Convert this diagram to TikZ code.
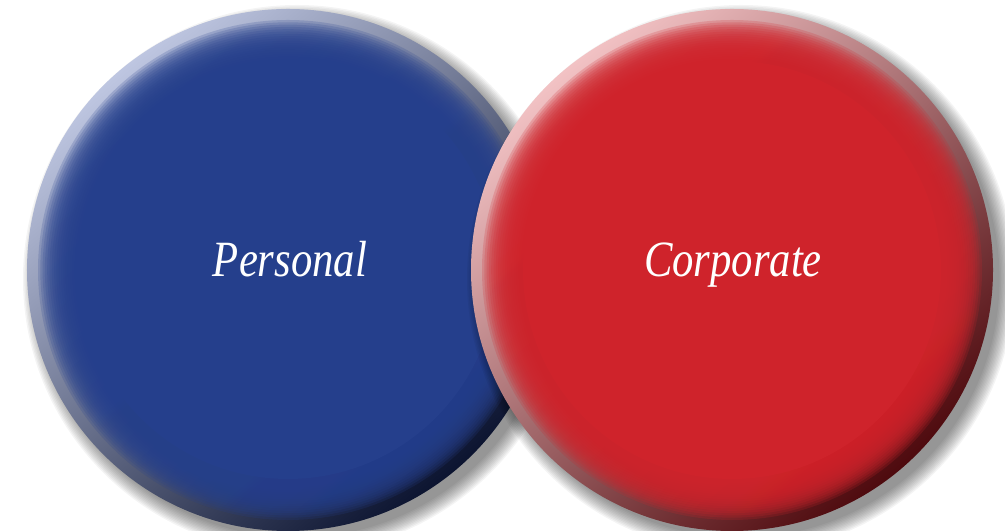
\documentclass[tikz,border=0pt]{standalone}
\usepackage{fontspec}
\setmainfont{Liberation Serif}
\usetikzlibrary{calc,shadings,positioning}
\definecolor{mblue}{RGB}{37,63,140}
\definecolor{mbluelt}{RGB}{190,198,225}
\definecolor{mbluedk}{RGB}{12,20,48}
\definecolor{mred}{RGB}{207,35,43}
\definecolor{mredlt}{RGB}{242,194,196}
\definecolor{mreddk}{RGB}{78,10,14}
\tikzstyle{shadow}=[fill=black, fill opacity=0.045]
\tikzstyle{rim}=[fill opacity=0.2]
\tikzstyle{label}=[text=white, font=\itshape\fontsize{51}{56}\selectfont, xscale=0.84, anchor=base]

\begin{document}
\begin{tikzpicture}[x=1bp,y=1bp]
    \useasboundingbox (0,0) rectangle (1005,531);
    \coordinate (b) at (288,261);
    \coordinate (r) at (732,261);

    % blue disc
    \foreach \k in {0,...,11}
        \fill[shadow] ($(b)+(9,-9)$) circle ({274-1.4*\k});
    \shade[top color=mbluelt, middle color=mblue, bottom color=mbluedk, shading angle=40] (b) circle (261bp);
    \foreach \k in {0,...,17}
        \fill[rim, mblue] (b) circle ({250-2.3*\k});
    \fill[mblue] (b) circle (209bp);

    % red disc
    \foreach \k in {0,...,11}
        \fill[shadow] ($(r)+(9,-9)$) circle ({274-1.4*\k});
    \shade[top color=mredlt, middle color=mred, bottom color=mreddk, shading angle=40] (r) circle (261bp);
    \foreach \k in {0,...,17}
        \fill[rim, mred] (r) circle ({250-2.3*\k});
    \fill[mred] (r) circle (209bp);

    \node[label] (pers) at (290,254) {Personal};
    \node[label] (corp) at (733,254) {Corporate};
\end{tikzpicture}
\end{document}
